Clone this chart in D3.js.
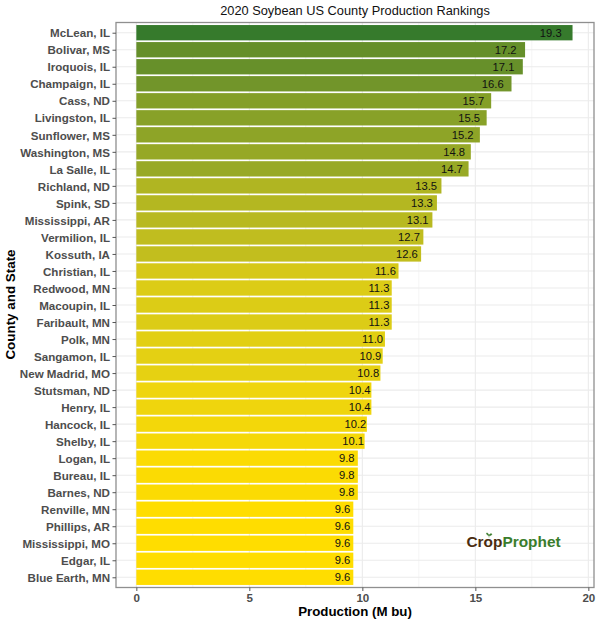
<!DOCTYPE html>
<html><head><meta charset="utf-8">
<script src="https://cdn.jsdelivr.net/npm/d3@7/dist/d3.min.js"></script>
<style>html,body{margin:0;padding:0;background:#fff}svg{display:block}text{font-family:"Liberation Sans",Arial,sans-serif}</style>
</head><body><div id="c"></div>
<script>
const counties = ["McLean, IL","Bolivar, MS","Iroquois, IL","Champaign, IL","Cass, ND","Livingston, IL","Sunflower, MS","Washington, MS","La Salle, IL","Richland, ND","Spink, SD","Mississippi, AR","Vermilion, IL","Kossuth, IA","Christian, IL","Redwood, MN","Macoupin, IL","Faribault, MN","Polk, MN","Sangamon, IL","New Madrid, MO","Stutsman, ND","Henry, IL","Hancock, IL","Shelby, IL","Logan, IL","Bureau, IL","Barnes, ND","Renville, MN","Phillips, AR","Mississippi, MO","Edgar, IL","Blue Earth, MN"];
const production = [19.3,17.2,17.1,16.6,15.7,15.5,15.2,14.8,14.7,13.5,13.3,13.1,12.7,12.6,11.6,11.3,11.3,11.3,11.0,10.9,10.8,10.4,10.4,10.2,10.1,9.8,9.8,9.8,9.6,9.6,9.6,9.6,9.6];
const xTicks = [0,5,10,15,20];
const xMinor = [2.5,7.5,12.5,17.5];

const W=600,H=624,L=116,R=594,T=22.5,B=587.5;
const svg=d3.select("#c").append("svg").attr("width",W).attr("height",H);
const x=d3.scaleLinear().domain([-0.9,20.25]).range([L,R]);
const y=d3.scaleBand().domain(counties.map((c,i)=>i)).range([T,B]).paddingInner(0.1).paddingOuter(0.15);
const color=d3.scaleLinear().domain([9.6,19.3]).range(["#FFDD00","#367A2C"]).interpolate(d3.interpolateLab);

const grid=svg.append("g");
grid.selectAll(".minor").data(xMinor).join("line").attr("x1",d=>x(d)).attr("x2",d=>x(d)).attr("y1",T).attr("y2",B).attr("stroke","#f2f2f2").attr("stroke-width",0.8);
grid.selectAll(".major").data(xTicks).join("line").attr("x1",d=>x(d)).attr("x2",d=>x(d)).attr("y1",T).attr("y2",B).attr("stroke","#ebebeb").attr("stroke-width",1.1);
grid.selectAll(".h").data(counties.map((c,i)=>i)).join("line").attr("x1",L).attr("x2",R).attr("y1",d=>y(d)+y.bandwidth()/2).attr("y2",d=>y(d)+y.bandwidth()/2).attr("stroke","#ebebeb").attr("stroke-width",1.1);

svg.append("g").selectAll("rect").data(production).join("rect")
 .attr("x",x(0)).attr("y",(d,i)=>y(i)).attr("width",d=>x(d)-x(0)).attr("height",y.bandwidth())
 .attr("fill",d=>color(d));

svg.append("g").selectAll("text").data(production).join("text")
 .attr("x",d=>x(d*0.95)).attr("y",(d,i)=>y(i)+y.bandwidth()/2+4.2).attr("text-anchor","middle")
 .attr("font-size",11.2).attr("fill","#111").text(d=>d.toFixed(1));

svg.append("rect").attr("x",L).attr("y",T).attr("width",R-L).attr("height",B-T).attr("fill","none").attr("stroke","#8f8f8f").attr("stroke-width",1.3);

const xa=svg.append("g").attr("transform",`translate(0,${B})`).call(d3.axisBottom(x).tickValues(xTicks).tickSize(3.5).tickSizeOuter(0).tickPadding(3));
xa.select(".domain").remove();
xa.selectAll("line").attr("stroke","#555");
xa.selectAll("text").attr("font-size",11.6).attr("font-weight","bold").attr("fill","#4d4d4d");

const ya=svg.append("g").attr("transform",`translate(${L},0)`).call(d3.axisLeft(d3.scalePoint().domain(counties.map((c,i)=>i)).range([y(0)+y.bandwidth()/2,y(32)+y.bandwidth()/2])).tickSize(3.5).tickPadding(2.5).tickFormat(i=>counties[i]));
ya.select(".domain").remove();
ya.selectAll("line").attr("stroke","#555");
ya.selectAll("text").attr("font-size",11.6).attr("font-weight","bold").attr("fill","#4d4d4d").attr("dy","0.36em");

svg.append("text").attr("x",355).attr("y",14.5).attr("text-anchor","middle").attr("font-size",12.8).attr("fill","#111").text("2020 Soybean US County Production Rankings");
svg.append("text").attr("x",355).attr("y",616).attr("text-anchor","middle").attr("font-size",13.3).attr("font-weight","bold").attr("fill","#000").text("Production (M bu)");
svg.append("text").attr("transform","translate(15,304.5) rotate(-90)").attr("text-anchor","middle").attr("font-size",13.4).attr("font-weight","bold").attr("fill","#000").text("County and State");

const logo=svg.append("g");
const lt=logo.append("text").attr("x",466.5).attr("y",546.5).attr("font-size",15.4).attr("font-family","Open Sans, sans-serif").attr("font-weight",600);
lt.append("tspan").attr("fill","#4a2c10").text("Crop");
lt.append("tspan").attr("fill","#3a7d2c").text("Prophet");
logo.append("path").attr("d","M489 535.5 C488.5 533.5 487.5 533 486.5 533 C486.5 534.5 487.5 535.5 489 535.5 M489 535.5 C489.5 534 490.5 533.5 492 534 C491.5 535.5 490.5 535.8 489 535.5 M489 535.5 L489 537.5").attr("fill","#3a7d2c").attr("stroke","#3a7d2c").attr("stroke-width",0.5);
</script></body></html>
